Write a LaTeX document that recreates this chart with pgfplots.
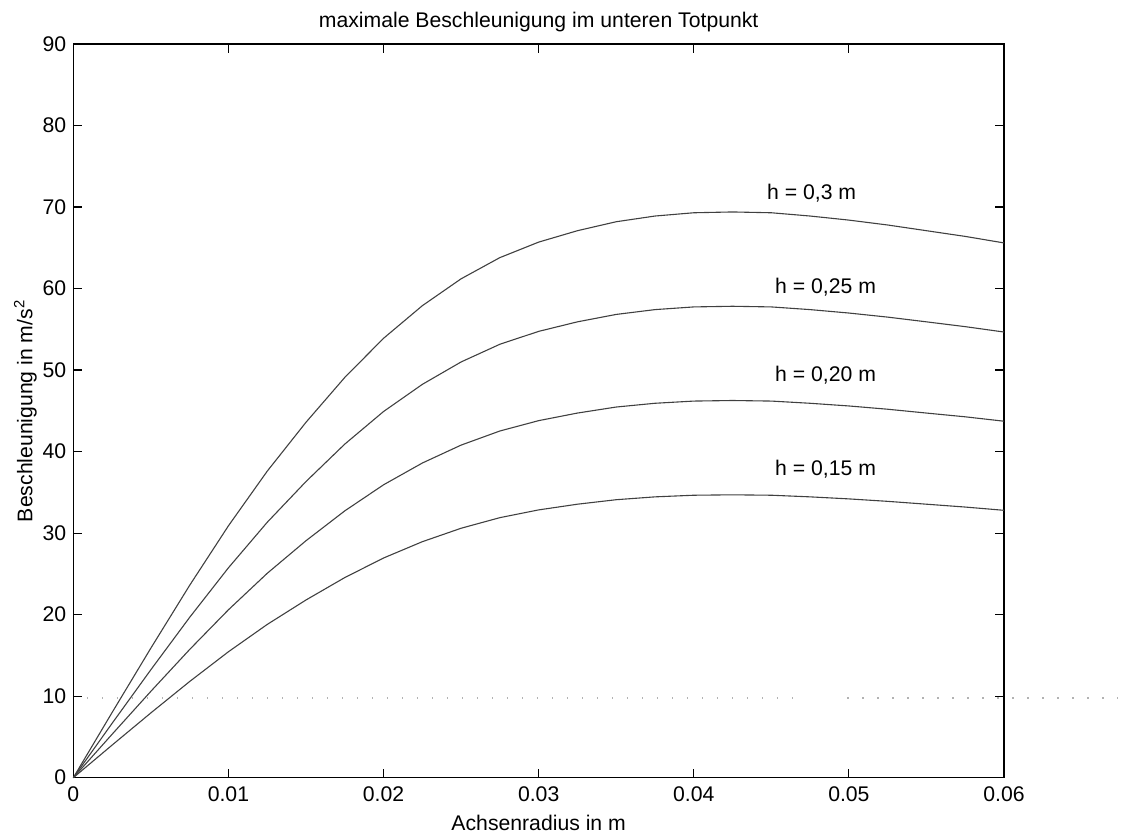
\documentclass[border=0pt]{standalone}
\usepackage{fontspec}
\setmainfont{Liberation Sans}
\usepackage{pgfplots}
\usepackage{pgfplotstable}
\pgfplotsset{compat=1.18}

% a = h * f(r)
\pgfplotstableread{
x      h30   h25    h20    h15
0      0     0      0      0
0.0025 8.0   6.67   5.33   4.0
0.005  15.9  13.25  10.6   7.95
0.0075 23.6  19.67  15.73  11.8
0.01   30.9  25.75  20.6   15.45
0.0125 37.6  31.33  25.07  18.8
0.015  43.6  36.33  29.07  21.8
0.0175 49.1  40.92  32.73  24.55
0.02   53.9  44.92  35.93  26.95
0.0225 57.9  48.25  38.6   28.95
0.025  61.2  51.0   40.8   30.6
0.0275 63.8  53.17  42.53  31.9
0.03   65.7  54.75  43.8   32.85
0.0325 67.1  55.92  44.73  33.55
0.035  68.2  56.83  45.47  34.1
0.0375 68.9  57.42  45.93  34.45
0.04   69.3  57.75  46.2   34.65
0.0425 69.4  57.83  46.27  34.7
0.045  69.3  57.75  46.2   34.65
0.0475 68.9  57.42  45.93  34.45
0.05   68.4  57.0   45.6   34.2
0.0525 67.8  56.5   45.2   33.9
0.055  67.1  55.92  44.73  33.55
0.0575 66.4  55.33  44.27  33.2
0.06   65.6  54.67  43.73  32.8
}\accdata

\begin{document}
\begin{tikzpicture}[font=\fontsize{10.6}{12.5}\selectfont]
\begin{axis}[
  width=465.4pt, height=366.9pt, scale only axis,
  xmin=0, xmax=0.06, ymin=0, ymax=90,
  xtick={0,0.01,0.02,0.03,0.04,0.05,0.06},
  xticklabels={0,0.01,0.02,0.03,0.04,0.05,0.06},
  ytick={0,10,20,30,40,50,60,70,80,90},
  yticklabels={0,10,20,30,40,50,60,70,80,90},
  scaled x ticks=false, scaled y ticks=false,
  tick align=inside, major tick length=4.5pt,
  axis line style={line width=0.75pt},
  every tick/.style={black, line width=0.6pt},
  tick label style={font=\fontsize{10.6}{12.5}\selectfont},
  label style={font=\fontsize{10.6}{12.5}\selectfont, inner sep=0pt},
  title style={font=\fontsize{10.6}{12.5}\selectfont, inner sep=0pt},
  xticklabel style={yshift=-1pt},
  title={maximale Beschleunigung im unteren Totpunkt},
  title style={at={(axis description cs:0.5,1.0136)}, anchor=center},
  xlabel={Achsenradius in m},
  xlabel style={at={(axis description cs:0.5,-0.0617)}, anchor=center},
  ylabel={Beschleunigung in m/s\textsuperscript{2}},
  ylabel style={at={(axis description cs:-0.0516,0.5)}, anchor=center},
  clip=false,
]
\path (rel axis cs:-0.0788,-0.0767) rectangle (rel axis cs:1.1268,1.060);
\addplot[gray!60, no marks, line width=0.8pt, dash pattern=on 0.6pt off 6.9pt]
  coordinates {(0.00088,9.81) (0.0472,9.81)};
\addplot[gray!60, no marks, line width=0.8pt, dash pattern=on 0.6pt off 6.9pt]
  coordinates {(0.0499,9.81) (0.0675,9.81)};
\addplot[black!75, solid, no marks, line width=0.55pt] table[x=x, y=h30] {\accdata};
\addplot[black!75, solid, no marks, line width=0.55pt] table[x=x, y=h25] {\accdata};
\addplot[black!75, solid, no marks, line width=0.55pt] table[x=x, y=h20] {\accdata};
\addplot[black!75, solid, no marks, line width=0.55pt] table[x=x, y=h15] {\accdata};
\node at (axis cs:0.0476,71.7) {h = 0,3 m};
\node at (axis cs:0.0485,60.2) {h = 0,25 m};
\node at (axis cs:0.0485,49.4) {h = 0,20 m};
\node at (axis cs:0.0485,37.9) {h = 0,15 m};
\end{axis}
\end{tikzpicture}
\end{document}
